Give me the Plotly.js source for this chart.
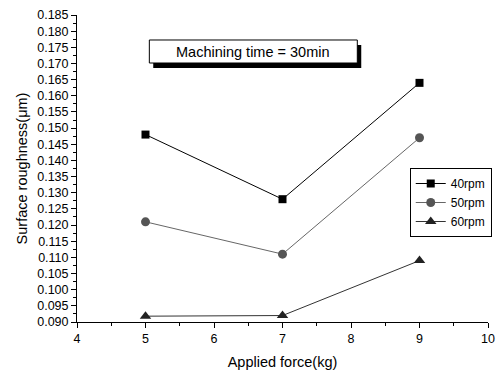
<!DOCTYPE html>
<html>
<head>
<meta charset="utf-8">
<script src="https://cdn.plot.ly/plotly-3.0.1.min.js"></script>
<style>html,body{margin:0;padding:0;background:#fff;}#chart{width:501px;height:372px;}</style>
</head>
<body>
<div id="chart"></div>
<script>
const force = [5, 7, 9];
const rpm40 = [0.148, 0.128, 0.164];
const rpm50 = [0.121, 0.111, 0.147];
const rpm60 = [0.0918, 0.0920, 0.109];
const seriesNames = ['40rpm', '50rpm', '60rpm'];
const noteText = 'Machining time = 30min';

const font = 'Liberation Sans, Arial, sans-serif';
const traces = [
  {x: force, y: rpm40, name: seriesNames[0], mode: 'lines+markers',
   line: {color: '#000', width: 1}, marker: {symbol: 'square', size: 8, color: '#000'}},
  {x: force, y: rpm50, name: seriesNames[1], mode: 'lines+markers',
   line: {color: '#666', width: 1}, marker: {symbol: 'circle', size: 9, color: '#555'}},
  {x: force, y: rpm60, name: seriesNames[2], mode: 'lines+markers',
   line: {color: '#333', width: 1}, marker: {symbol: 'triangle-up', size: 10, color: '#222'}}
];

const layout = {
  width: 501, height: 372,
  margin: {l: 77, r: 9, t: 15, b: 50},
  paper_bgcolor: '#fff', plot_bgcolor: '#fff',
  font: {family: font, color: '#000', size: 12},
  showlegend: true,
  legend: {x: 0.8096, y: 0.5016, xanchor: 'left', yanchor: 'top',
    bordercolor: '#000', borderwidth: 1, bgcolor: '#fff',
    font: {family: font, size: 12, color: '#000'}, itemwidth: 30,
    tracegroupgap: 0},
  xaxis: {range: [4, 10], dtick: 1, tick0: 4, showgrid: false, zeroline: false,
    showline: true, linecolor: '#000', linewidth: 1,
    ticks: 'outside', ticklen: 5, tickcolor: '#000', tickfont: {size: 12.5},
    minor: {dtick: 0.5, ticks: 'outside', ticklen: 3, tickcolor: '#000'},
    title: {text: 'Applied force(kg)', font: {size: 14.5}, standoff: 11}},
  yaxis: {range: [0.090, 0.185], dtick: 0.005, tick0: 0.09, showgrid: false, zeroline: false,
    showline: true, linecolor: '#000', linewidth: 1, tickformat: '.3f',
    ticks: 'outside', ticklen: 5, tickcolor: '#000', tickfont: {size: 12.5},
    minor: {dtick: 0.0025, ticks: 'outside', ticklen: 3, tickcolor: '#000'},
    title: {text: 'Surface roughness(\u03bcm)', font: {size: 14.5}, standoff: 6}},
  shapes: [
    {type: 'rect', xref: 'paper', yref: 'paper', x0: 0.1855, x1: 0.6916, y0: 0.827, y1: 0.902,
     fillcolor: '#000', line: {width: 0}},
    {type: 'rect', xref: 'paper', yref: 'paper', x0: 0.176, x1: 0.682, y0: 0.8436, y1: 0.9186,
     fillcolor: '#fff', line: {color: '#000', width: 1}}
  ],
  annotations: [
    {xref: 'paper', yref: 'paper', x: 0.4289, y: 0.881, text: noteText, showarrow: false,
     font: {family: font, size: 14.5, color: '#000'}, xanchor: 'center', yanchor: 'middle'}
  ]
};

Plotly.newPlot('chart', traces, layout, {displayModeBar: false, staticPlot: true});
</script>
</body>
</html>
